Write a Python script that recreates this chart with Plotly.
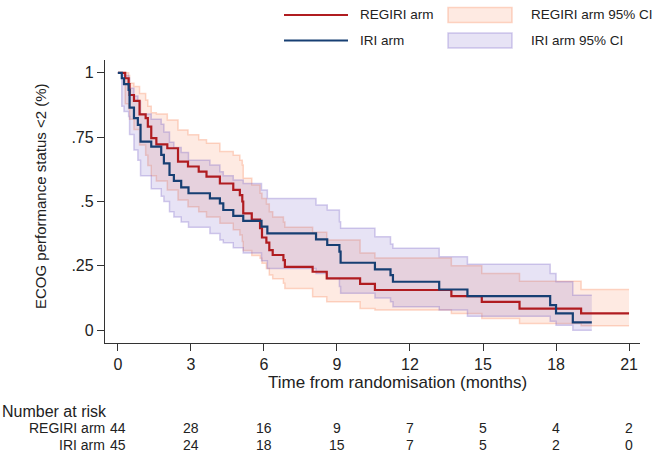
import plotly.graph_objects as go

# ---------------- data ----------------
regiri_t = [0, 0.30, 0.44, 0.48, 0.66, 0.89, 1.14, 1.23, 1.37, 1.58,
            2.03, 2.47, 2.88, 3.32, 3.64, 4.19, 4.74, 5.01, 5.11, 5.15,
            5.50, 5.84, 5.92, 6.10, 6.22, 6.36, 6.80, 6.86, 8.00, 8.58,
            9.95, 10.56, 13.70, 14.95, 16.50, 19.03, 21.0]
regiri_s = [1.0, 0.979, 0.956, 0.914, 0.891, 0.839, 0.824, 0.791, 0.746, 0.722,
            0.707, 0.655, 0.636, 0.616, 0.597, 0.570, 0.545, 0.525, 0.500, 0.454,
            0.430, 0.396, 0.360, 0.340, 0.311, 0.292, 0.272, 0.246, 0.227, 0.201,
            0.180, 0.156, 0.132, 0.110, 0.084, 0.065, 0.065]
regiri_hi = [1.0, 1.0, 0.99, 0.96, 0.947, 0.92, 0.895, 0.87, 0.845, 0.84,
             0.817, 0.778, 0.759, 0.74, 0.726, 0.694, 0.68, 0.66, 0.642, 0.59,
             0.564, 0.532, 0.512, 0.49, 0.46, 0.44, 0.42, 0.40, 0.38, 0.35,
             0.30, 0.28, 0.25, 0.22, 0.19, 0.158, 0.158]
regiri_lo = [1.0, 0.88, 0.86, 0.82, 0.78, 0.72, 0.68, 0.64, 0.60, 0.58,
             0.545, 0.506, 0.48, 0.46, 0.44, 0.415, 0.39, 0.37, 0.345, 0.31,
             0.29, 0.279, 0.26, 0.24, 0.214, 0.20, 0.182, 0.162, 0.13, 0.11,
             0.084, 0.078, 0.065, 0.045, 0.026, 0.017, 0.017]

iri_t = [0, 0.16, 0.25, 0.44, 0.48, 0.66, 0.82, 0.93, 1.37, 1.78,
         1.89, 2.12, 2.30, 2.60, 2.90, 3.78, 4.19, 4.33, 4.74, 5.15,
         5.90, 6.14, 8.14, 8.60, 9.10, 9.15, 10.56, 11.20, 11.30, 13.20,
         14.36, 17.76, 18.00, 18.69, 19.47]
iri_s = [1.0, 0.979, 0.956, 0.934, 0.865, 0.824, 0.798, 0.733, 0.713, 0.681,
         0.648, 0.603, 0.580, 0.555, 0.532, 0.512, 0.493, 0.467, 0.444, 0.425,
         0.402, 0.376, 0.353, 0.331, 0.305, 0.262, 0.236, 0.214, 0.188, 0.158,
         0.132, 0.097, 0.065, 0.030, 0.030]
iri_hi = [1.0, 1.0, 0.99, 0.98, 0.94, 0.91, 0.89, 0.84, 0.82, 0.80,
          0.77, 0.73, 0.71, 0.69, 0.66, 0.642, 0.616, 0.60, 0.584, 0.57,
          0.545, 0.512, 0.486, 0.467, 0.421, 0.396, 0.363, 0.335, 0.318, 0.285,
          0.256, 0.22, 0.188, 0.136, 0.136]
iri_lo = [1.0, 0.87, 0.85, 0.83, 0.76, 0.70, 0.66, 0.60, 0.55, 0.52,
          0.50, 0.46, 0.44, 0.42, 0.40, 0.376, 0.35, 0.34, 0.32, 0.30,
          0.27, 0.24, 0.22, 0.20, 0.17, 0.143, 0.125, 0.11, 0.091, 0.078,
          0.054, 0.035, 0.019, 0.0, 0.0]

risk_times = [0, 3, 6, 9, 12, 15, 18, 21]
regiri_risk = [44, 28, 16, 9, 7, 5, 4, 2]
iri_risk = [45, 24, 18, 15, 7, 5, 2, 0]

x_ticks = [0, 3, 6, 9, 12, 15, 18, 21]
y_ticks = [0, 0.25, 0.5, 0.75, 1]
y_ticklabels = ["0", ".25", ".5", ".75", "1"]

# ---------------- styles ----------------
FONT = "Liberation Sans, Arial, sans-serif"
TXT = "#222"
RED = "#b01c20"
BLUE = "#173f73"
RED_FILL = "rgba(250,150,110,0.20)"
RED_EDGE = "rgba(250,150,110,0.38)"
BLUE_FILL = "rgba(120,100,200,0.18)"
BLUE_EDGE = "rgba(120,100,200,0.32)"

W, H = 655, 455
L, R, T, B = 105, 15, 60, 112
PW, PH = W - L - R, H - T - B


def px_x(p):
    return (p - L) / PW


def px_y(p):
    return (H - B - p) / PH


fig = go.Figure()

# CI bands
for t, lo, hi, fc, ec in [(regiri_t, regiri_lo, regiri_hi, RED_FILL, RED_EDGE),
                          (iri_t, iri_lo, iri_hi, BLUE_FILL, BLUE_EDGE)]:
    fig.add_trace(go.Scatter(x=t, y=lo, mode="lines", line=dict(shape="hv", color=ec, width=1.5),
                             showlegend=False, hoverinfo="skip"))
    fig.add_trace(go.Scatter(x=t, y=hi, mode="lines", line=dict(shape="hv", color=ec, width=1.5),
                             fill="tonexty", fillcolor=fc, showlegend=False, hoverinfo="skip"))

# KM curves
fig.add_trace(go.Scatter(x=regiri_t, y=regiri_s, mode="lines", name="REGIRI arm",
                         line=dict(shape="hv", color=RED, width=2.2), showlegend=False))
fig.add_trace(go.Scatter(x=iri_t, y=iri_s, mode="lines", name="IRI arm",
                         line=dict(shape="hv", color=BLUE, width=2.2), showlegend=False))

shapes = []
annotations = []

# manual legend
leg_rows = [(15, "REGIRI arm", RED, "REGIRI arm 95% CI", RED_FILL, RED_EDGE),
            (40.5, "IRI arm", BLUE, "IRI arm 95% CI", BLUE_FILL, BLUE_EDGE)]
for yy, lab, lc, cilab, fc, ec in leg_rows:
    shapes.append(dict(type="line", xref="paper", yref="paper",
                       x0=px_x(284), x1=px_x(348), y0=px_y(yy), y1=px_y(yy),
                       line=dict(color=lc, width=2.2)))
    shapes.append(dict(type="rect", xref="paper", yref="paper",
                       x0=px_x(448), x1=px_x(512), y0=px_y(yy - 7.5), y1=px_y(yy + 7.5),
                       fillcolor=fc, line=dict(color=ec, width=1.5)))
    annotations.append(dict(xref="paper", yref="paper", x=px_x(358), y=px_y(yy),
                            text=lab, showarrow=False, xanchor="left", yanchor="middle",
                            font=dict(family=FONT, size=13.5, color=TXT)))
    annotations.append(dict(xref="paper", yref="paper", x=px_x(529), y=px_y(yy),
                            text=cilab, showarrow=False, xanchor="left", yanchor="middle",
                            font=dict(family=FONT, size=13.5, color=TXT)))

# axis titles
annotations.append(dict(xref="paper", yref="paper", x=px_x(397), y=px_y(382),
                        text="Time from randomisation (months)", showarrow=False,
                        xanchor="center", yanchor="middle",
                        font=dict(family=FONT, size=17, color=TXT)))
annotations.append(dict(xref="paper", yref="paper", x=px_x(40), y=px_y(196),
                        text="ECOG performance status <2 (%)", showarrow=False, textangle=-90,
                        xanchor="center", yanchor="middle",
                        font=dict(family=FONT, size=15, color=TXT)))

# number at risk table
annotations.append(dict(xref="paper", yref="paper", x=px_x(0), y=px_y(411),
                        text="Number at risk", showarrow=False, xanchor="left", yanchor="middle",
                        font=dict(family=FONT, size=16, color=TXT)))
for yy, lab, counts in [(428, "REGIRI arm", regiri_risk), (445, "IRI arm", iri_risk)]:
    annotations.append(dict(xref="paper", yref="paper", x=px_x(107), y=px_y(yy),
                            text=lab, showarrow=False, xanchor="right", yanchor="middle",
                            font=dict(family=FONT, size=14, color=TXT)))
    for tt, c in zip(risk_times, counts):
        annotations.append(dict(xref="x", yref="paper", x=tt, y=px_y(yy),
                                text=str(c), showarrow=False, xanchor="center", yanchor="middle",
                                font=dict(family=FONT, size=14, color=TXT)))

fig.update_layout(
    width=W, height=H,
    margin=dict(l=L, r=R, t=T, b=B),
    paper_bgcolor="white", plot_bgcolor="white",
    showlegend=False,
    shapes=shapes, annotations=annotations,
    font=dict(family=FONT, color=TXT),
    xaxis=dict(range=[-0.53, 21.45], tickvals=x_ticks, ticks="outside", ticklen=7,
               tickcolor="#333", showline=True, linecolor="#333", linewidth=1.3,
               showgrid=False, zeroline=False, tickfont=dict(size=16)),
    yaxis=dict(range=[-0.05, 1.05], tickvals=y_ticks, ticktext=y_ticklabels, ticks="outside",
               ticklen=7, tickcolor="#333", showline=True, linecolor="#333", linewidth=1.3,
               showgrid=False, zeroline=False, tickfont=dict(size=16)),
)

fig.write_html("out.html")
